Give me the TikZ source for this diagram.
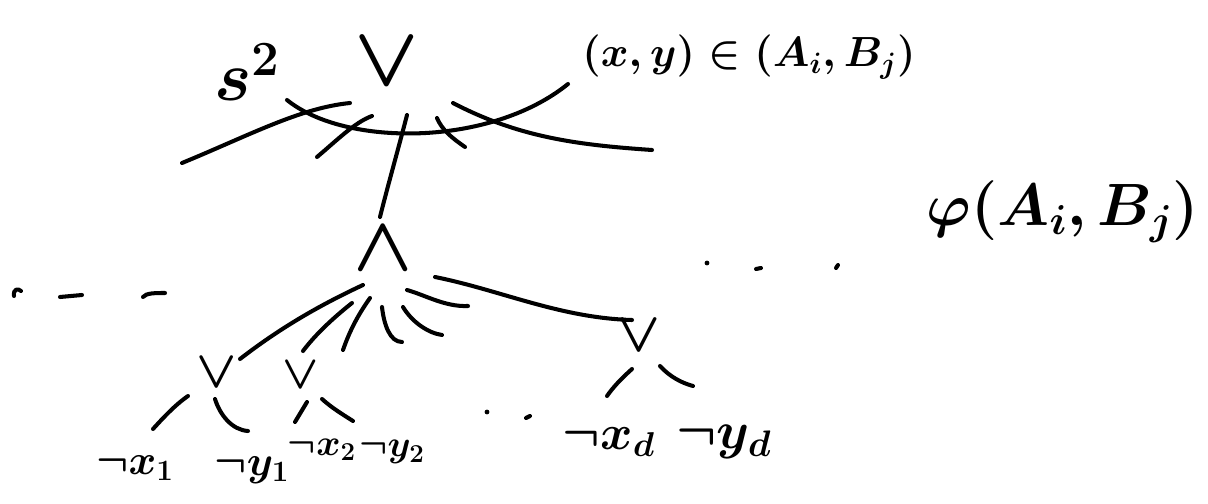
\RequirePackage{fix-cm}
\documentclass[tikz,border=0pt]{standalone}
\begin{document}
\tikzset{
  pen/.style={line width=2.3pt, line cap=round, line join=round},
  lbl/.style={inner sep=0pt, outer sep=0pt},
  fs/.style={font=\fontsize{#1}{#1}\selectfont\boldmath}
}
\begin{tikzpicture}[x=0.02cm,y=-0.02cm]
\useasboundingbox (0,0) rectangle (1208,504);

% ---------- nodes ----------
\node[lbl,fs=48] (top) at (387,62) {$\vee$};
\node[lbl,fs=40] (s2) at (247,72) {$s^2$};
\node[lbl,fs=24] (xy) at (749,57) {$(x,y)\in(A_i,B_j)$};
\node[lbl,fs=44] (and) at (383,249) {$\wedge$};
\node[lbl,fs=34] (phi) at (1063,212) {$\varphi(A_i,B_j)$};

\node[lbl,fs=30] (or1) at (217,373) {$\vee$};
\node[lbl,fs=27] (or2) at (301,375) {$\vee$};
\node[lbl,fs=32] (ord) at (639,336) {$\vee$};

\node[lbl,fs=24] (nx1) at (135,468) {$\neg x_1$};
\node[lbl,fs=24] (ny1) at (252,470) {$\neg y_1$};
\node[lbl,fs=21] (nx2) at (322,450) {$\neg x_2$};
\node[lbl,fs=21] (ny2) at (392,452) {$\neg y_2$};
\node[lbl,fs=28] (nxd) at (609,442) {$\neg x_d$};
\node[lbl,fs=30] (nyd) at (724,442) {$\neg y_d$};

% ---------- top fan with arc ----------
\coordinate (arcL) at (287,100);
\coordinate (arcR) at (568,84);
\draw[pen] (arcL) .. controls (345,147) and (490,147) .. (arcR);
\coordinate (fa1) at (182,163); \coordinate (fb1) at (350,103);
\draw[pen] (fa1) .. controls (250,135) and (300,108) .. (fb1);
\coordinate (fa2) at (317,157); \coordinate (fb2) at (372,116);
\draw[pen] (fa2) .. controls (335,142) and (355,122) .. (fb2);
\coordinate (fa3) at (407,115); \coordinate (fb3) at (380,217);
\draw[pen] (fa3) .. controls (398,150) and (388,185) .. (fb3);
\coordinate (fa4) at (437,118); \coordinate (fb4) at (465,147);
\draw[pen] (fa4) .. controls (442,130) and (452,138) .. (fb4);
\coordinate (fa5) at (453,103); \coordinate (fb5) at (652,150);
\draw[pen] (fa5) .. controls (520,138) and (580,145) .. (fb5);

% ---------- fan under the conjunction ----------
\coordinate (ga1) at (363,285); \coordinate (gb1) at (240,359);
\draw[pen] (ga1) .. controls (320,305) and (280,328) .. (gb1);
\coordinate (ga2) at (352,303); \coordinate (gb2) at (303,351);
\draw[pen] (ga2) .. controls (333,318) and (315,335) .. (gb2);
\coordinate (ga3) at (370,298); \coordinate (gb3) at (343,350);
\draw[pen] (ga3) .. controls (358,315) and (350,330) .. (gb3);
\coordinate (ga4) at (382,307); \coordinate (gb4) at (402,342);
\draw[pen] (ga4) .. controls (384,325) and (390,342) .. (gb4);
\coordinate (ga5) at (403,307); \coordinate (gb5) at (442,335);
\draw[pen] (ga5) .. controls (412,322) and (428,333) .. (gb5);
\coordinate (ga6) at (407,290); \coordinate (gb6) at (468,306);
\draw[pen] (ga6) .. controls (425,295) and (445,307) .. (gb6);
\coordinate (ga7) at (435,277); \coordinate (gb7) at (632,320);
\draw[pen] (ga7) .. controls (500,290) and (560,318) .. (gb7);

% ---------- leaves of the disjunctions ----------
\coordinate (h1a) at (188,396); \coordinate (h1b) at (153,429);
\draw[pen] (h1a) .. controls (175,405) and (163,418) .. (h1b);
\coordinate (h2a) at (215,399); \coordinate (h2b) at (248,431);
\draw[pen] (h2a) .. controls (220,415) and (232,430) .. (h2b);
\coordinate (h3a) at (307,402); \coordinate (h3b) at (295,422);
\draw[pen] (h3a) -- (h3b);
\coordinate (h4a) at (322,399); \coordinate (h4b) at (353,421);
\draw[pen] (h4a) .. controls (332,408) and (342,414) .. (h4b);
\coordinate (h5a) at (632,369); \coordinate (h5b) at (607,396);
\draw[pen] (h5a) .. controls (622,378) and (614,386) .. (h5b);
\coordinate (h6a) at (660,366); \coordinate (h6b) at (693,386);
\draw[pen] (h6a) .. controls (670,377) and (682,383) .. (h6b);

% ---------- ellipsis marks ----------
\draw[pen] (14,296) .. controls (13,289) and (18,288) .. (21,291);
\draw[pen] (60,297) -- (82,295);
\draw[pen] (143,297) .. controls (146,293) and (155,293) .. (165,293);
\fill (487,412) circle (2.4);
\draw[pen] (526,418) -- (530,416);
\fill (707,263) circle (2.4);
\draw[pen] (756,269) -- (761,268);
\draw[pen] (836,268) -- (838,265);
\end{tikzpicture}
\end{document}
